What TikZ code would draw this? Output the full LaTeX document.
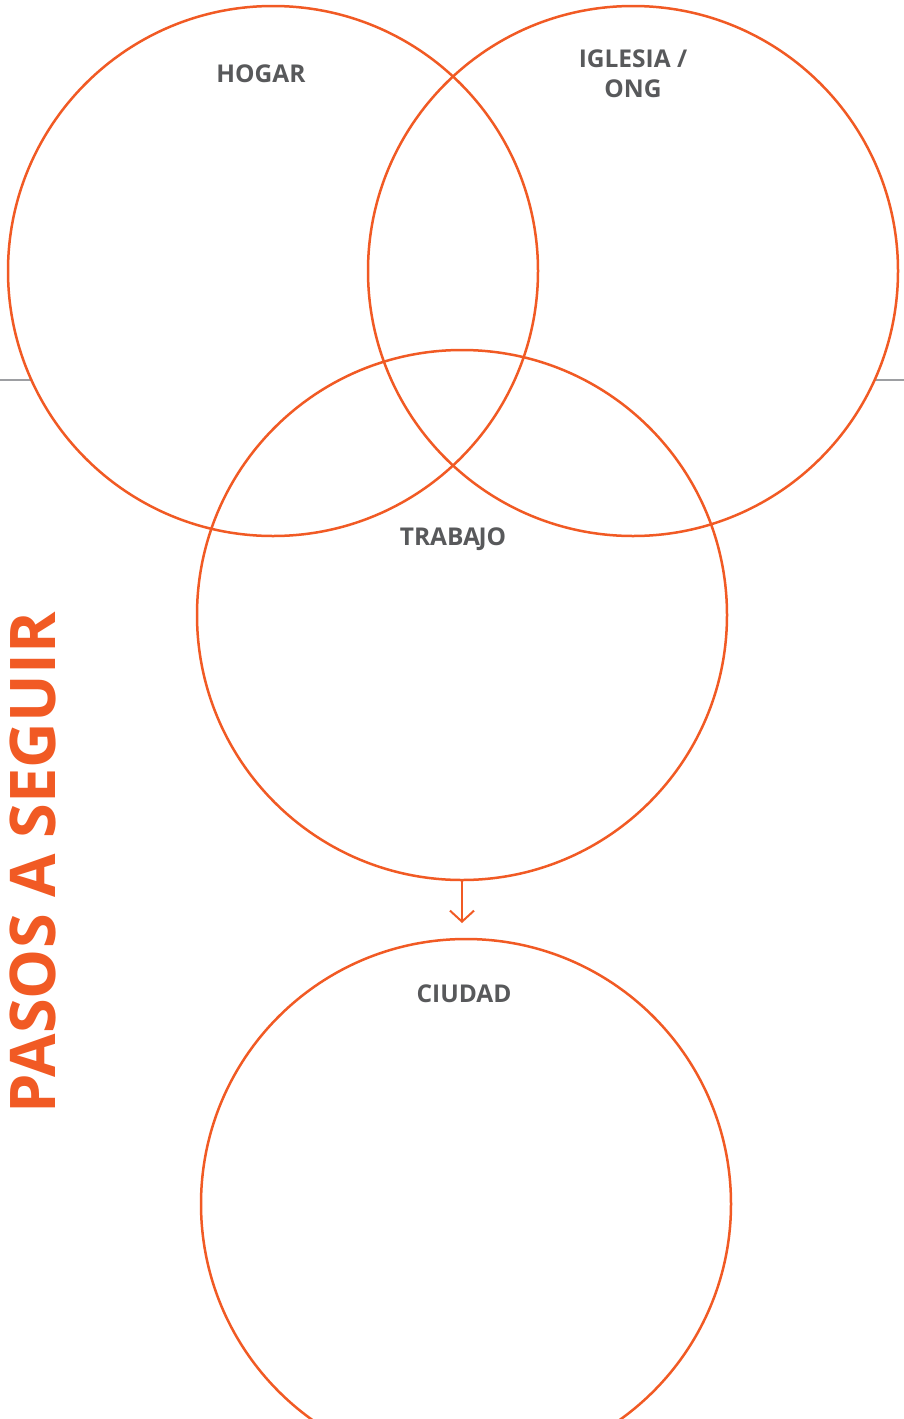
\documentclass[tikz,border=0pt]{standalone}
\usepackage{fontspec}
\setmainfont{Open Sans}
\usetikzlibrary{arrows.meta, positioning}
\definecolor{naranja}{HTML}{F15A24}
\definecolor{grisTexto}{HTML}{58595B}
\definecolor{grisLinea}{HTML}{9D9FA2}

\begin{document}
\begin{tikzpicture}[x=1pt,y=-1pt,
	circulo/.style={circle, draw=naranja, line width=2.5pt, minimum size=530pt, inner sep=0pt},
	etiqueta/.style={text=grisTexto, font=\bfseries\fontsize{24.5}{30}\selectfont, align=center}]

	\clip (0,0) rectangle (904,1419);
	\useasboundingbox (0,0) rectangle (904,1419);

	\coordinate (LL) at (0,380);
	\coordinate (LR) at (904,380);
	\draw [grisLinea, line width=2pt] (LL) -- (LR);

	% fondo blanco de los circulos
	\foreach \cx/\cy in {273/271, 633/271, 462/615, 466/1204}
		\fill [white] (\cx,\cy) circle (265);

	\node [circulo] (hogar) at (273,271) {};
	\node [circulo] (iglesia) at (633,271) {};
	\node [circulo] (trabajo) at (462,615) {};
	\node [circulo] (ciudad) at (466,1204) {};

	\node [etiqueta] (tHogar) at (261,74) {HOGAR};
	\node [etiqueta] (tIglesia) at (633,74) {IGLESIA /\\ONG};
	\node [etiqueta] (tTrabajo) at (453,539) {TRABA\kern-1.5pt JO};
	\node [etiqueta] (tCiudad) at (464,994) {CIUDAD};

	\coordinate (flecha) at (462,923);
	\draw [naranja, line width=2pt, -{Straight Barb[length=11pt, width=24pt, line width=2pt]}] (trabajo.south) -- (flecha);

	\node [rotate=90, text=naranja, font=\bfseries\fontsize{63}{70}\selectfont] (titulo) at (33,863) {PASOS A SEGUIR};

\end{tikzpicture}
\end{document}
